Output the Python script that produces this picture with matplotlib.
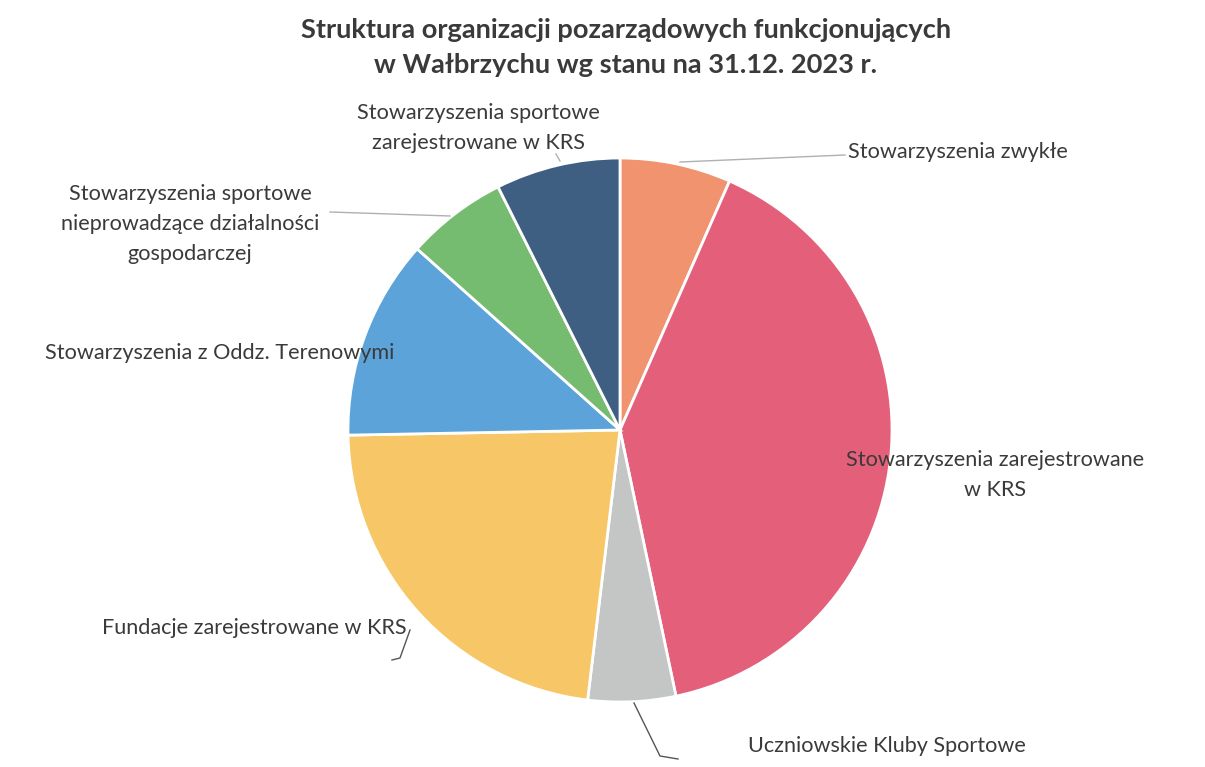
import numpy as np
import matplotlib.pyplot as plt

# Dane (udział w %, zgodnie z ruchem wskazówek od góry)
kategorie = [
    'Stowarzyszenia zwykłe',
    'Stowarzyszenia zarejestrowane w KRS',
    'Uczniowskie Kluby Sportowe',
    'Fundacje zarejestrowane w KRS',
    'Stowarzyszenia z Oddz. Terenowymi',
    'Stowarzyszenia sportowe nieprowadzące działalności gospodarczej',
    'Stowarzyszenia sportowe zarejestrowane w KRS',
]
udzialy = [6.6, 40.1, 5.2, 22.8, 11.9, 6.0, 7.4]
kolory = ['#F0936E', '#E4607A', '#C4C6C5', '#F7C767', '#5CA3D9', '#76BC70', '#3F5F82']

W, H = 1205, 767
plt.rcParams['font.family'] = ['Lato', 'DejaVu Sans']

fig = plt.figure(figsize=(W / 100, H / 100), dpi=100)
ax = fig.add_axes([0, 0, 1, 1])

cx, cy, r = 620, H - 430, 272
wedges, _ = ax.pie(udzialy, colors=kolory, startangle=90, counterclock=False,
                   center=(cx, cy), radius=r, frame=True,
                   wedgeprops=dict(edgecolor='white', linewidth=2))
ax.set_xlim(0, W)
ax.set_ylim(0, H)
ax.set_aspect('equal')
ax.axis('off')

txt = '#3a3a3a'
fs = 15.6
ls = 1.65

def Y(y):
    return H - y

# Tytuł
ax.text(626, Y(30), 'Struktura organizacji pozarządowych funkcjonujących',
        ha='center', va='center', fontsize=19.6, fontweight='bold', color=txt)
ax.text(626, Y(65), 'w Wałbrzychu wg stanu na 31.12. 2023 r.',
        ha='center', va='center', fontsize=19.6, fontweight='bold', color=txt)

# Linie odniesienia
lc = '#b0b0b0'
ax.plot([680, 845], [Y(162), Y(155)], color=lc, lw=1)
ax.plot([330, 450], [Y(212), Y(216)], color=lc, lw=1)
ax.plot([556, 560], [Y(154), Y(161)], color=lc, lw=1)
ax.plot([634, 660, 678], [Y(703), Y(756), Y(759)], color='#555555', lw=1)
ax.plot([410, 400, 392], [Y(630), Y(658), Y(660)], color='#555555', lw=1)

# Etykiety
ax.text(478, Y(128), 'Stowarzyszenia sportowe\nzarejestrowane w KRS',
        ha='center', va='center', fontsize=fs, color=txt, linespacing=ls)
ax.text(848, Y(152), 'Stowarzyszenia zwykłe',
        ha='left', va='center', fontsize=fs, color=txt)
ax.text(190, Y(224), 'Stowarzyszenia sportowe\nnieprowadzące działalności\ngospodarczej',
        ha='center', va='center', fontsize=fs, color=txt, linespacing=ls)
ax.text(45, Y(353), 'Stowarzyszenia z Oddz. Terenowymi',
        ha='left', va='center', fontsize=fs, color=txt)
ax.text(995, Y(475), 'Stowarzyszenia zarejestrowane\nw KRS',
        ha='center', va='center', fontsize=fs, color=txt, linespacing=ls)
ax.text(102, Y(628), 'Fundacje zarejestrowane w KRS',
        ha='left', va='center', fontsize=fs, color=txt)
ax.text(748, Y(746), 'Uczniowskie Kluby Sportowe',
        ha='left', va='center', fontsize=fs, color=txt)

fig.savefig('out.png', dpi=100, facecolor='white')
